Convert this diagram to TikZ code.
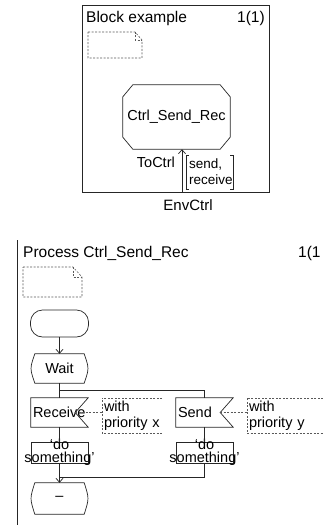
\documentclass[tikz,border=0pt]{standalone}
\usepackage{fontspec}
\setmainfont{Liberation Sans}
\usetikzlibrary{arrows.meta}
\tikzset{
  ln/.style={line width=0.7pt, draw=black!85},
  dsh/.style={line width=0.6pt, draw=black!65, dash pattern=on 2pt off 1.5pt},
  arr/.style={ln, -{Straight Barb[length=4pt,width=7pt]}},
  txt/.style={font=\fontsize{14.5}{16}\selectfont, inner sep=0pt},
  ttl/.style={font=\fontsize{15.5}{18}\selectfont, inner sep=0pt},
  shp/.style={txt, minimum width=57pt, inner sep=2pt},
  inbox/.style={shp, minimum height=29pt, text width=53pt, align=left},
  cmtbox/.style={txt, inner sep=2pt, align=left, minimum height=35pt},
  taskbox/.style={ln, draw, minimum width=57pt, minimum height=21pt, inner sep=0pt},
  tasklbl/.style={font=\fontsize{14.5}{13}\selectfont, inner sep=0pt, align=center},
}
\newcommand\sdlstate[1]{\draw[ln] ([xshift=4pt]#1.north west) -- ([xshift=-4pt]#1.north east) .. controls ([xshift=1pt]#1.east) .. ([xshift=-4pt]#1.south east) -- ([xshift=4pt]#1.south west) .. controls ([xshift=-1pt]#1.west) .. cycle;}
\newcommand\sdlinput[1]{\draw[ln] (#1.north west) -- (#1.north east) -- ([xshift=-13pt]#1.east) -- (#1.south east) -- (#1.south west) -- cycle;}
\newcommand\sdlcomment[1]{\draw[dsh] (#1.north east) -- (#1.north west) -- (#1.south west) -- (#1.south east);}
\begin{document}
\begin{tikzpicture}[x=1pt,y=-1pt]
\useasboundingbox (0,0) rectangle (323,527);
% ---------- block diagram ----------
\node[ln, draw, minimum width=187pt, minimum height=187pt, inner sep=0pt] (blk) at (175.5,98.5) {};
\node[ttl, anchor=west] (btitle) at (86,18) {Block example};
\node[ttl, anchor=west] (bpage) at (237,18) {1(1)};
\draw[dsh] (88,32) -- (135,32) -- (142,40) -- (142,58) -- (88,58) -- cycle;
\draw[dsh] (135,32) -- (135,40) -- (142,40);
\node[txt, minimum width=107pt, minimum height=64pt] (ctrl) at (176.5,117) {Ctrl\_Send\_Rec};
\draw[ln] ([xshift=10pt]ctrl.north west) -- ([xshift=-10pt]ctrl.north east) -- ([yshift=-12pt]ctrl.north east) -- ([yshift=12pt]ctrl.south east) -- ([xshift=-10pt]ctrl.south east) -- ([xshift=10pt]ctrl.south west) -- ([yshift=12pt]ctrl.south west) -- ([yshift=-12pt]ctrl.north west) -- cycle;
\coordinate (gate) at (182,192);
\draw[arr] (gate) -- (gate |- ctrl.south);
\node[txt, anchor=east] (toctrl) at (175,162) {ToCtrl};
\node[txt, font=\fontsize{13.5}{16}\selectfont, align=left, anchor=west] (sigs) at (189,171.5) {send,\\receive};
\draw[ln, line width=0.6pt] (189,155) -- (186,155) -- (186,189) -- (189,189);
\draw[ln, line width=0.6pt] (230,155) -- (233,155) -- (233,189) -- (230,189);
\node[ttl, font=\fontsize{15}{18}\selectfont] (env) at (188,205) {EnvCtrl};
% ---------- process diagram ----------
\draw[ln] (17,240) -- (17,525);
\node[ttl, anchor=west] (ptitle) at (23,253) {Process Ctrl\_Send\_Rec};
\node[ttl, anchor=west] (ppage) at (298,253) {1(1};
\draw[dsh] (23,267) -- (73,267) -- (82,277) -- (82,297) -- (23,297) -- cycle;
\draw[dsh] (73,267) -- (73,277) -- (82,277);
\node[ln, draw, rounded corners=12pt, minimum width=58pt, minimum height=27pt, inner sep=0pt] (start) at (59.5,323.5) {};
\node[shp, minimum height=29pt] (wait) at (59.5,368.5) {Wait};
\sdlstate{wait}
\node[inbox] (recv) at (59.5,412.5) {Receive};
\sdlinput{recv}
\node[inbox] (send) at (204.5,412.5) {Send};
\sdlinput{send}
\node[cmtbox, text width=56pt] (cmt1) at (132,415.5) {with\\priority x};
\sdlcomment{cmt1}
\node[cmtbox, text width=72pt] (cmt2) at (285,415.5) {with\\priority y};
\sdlcomment{cmt2}
\draw[dsh] ([xshift=-13pt]recv.east) -- (recv.east -| cmt1.west);
\draw[dsh] ([xshift=-13pt]send.east) -- (send.east -| cmt2.west);
\node[taskbox, label={[tasklbl]center:{‘do\\something’}}] (task1) at (59.5,452.5) {};
\node[taskbox, label={[tasklbl]center:{‘do\\something’}}] (task2) at (204.5,452.5) {};
\node[shp, minimum height=31pt] (endst) at (59.5,498.5) {–};
\sdlstate{endst}
% connectors
\draw[arr] (start.south) -- (wait.north);
\draw[ln] (wait.south) -- (recv.north);
\coordinate (split) at (59.5,390);
\draw[ln] (split) -| (send.north);
\draw[ln] (recv.south) -- (task1.north);
\draw[ln] (send.south) -- (task2.north);
\draw[arr] (task1.south) -- (endst.north);
\coordinate (merge) at (59.5,477);
\draw[ln] (task2.south) |- (merge);
\end{tikzpicture}
\end{document}
